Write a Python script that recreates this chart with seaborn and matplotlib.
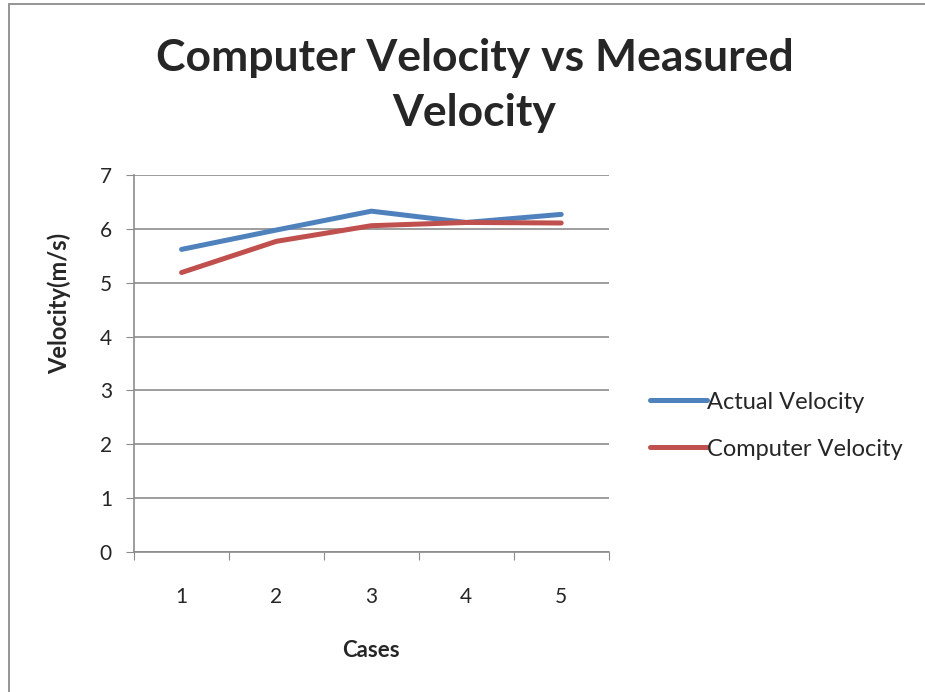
import pandas as pd
import numpy as np
import matplotlib.pyplot as plt
import seaborn as sns
from matplotlib.patches import Rectangle

# data
cases = [1, 2, 3, 4, 5]
actual_velocity = [5.62, 5.98, 6.33, 6.12, 6.27]
computer_velocity = [5.19, 5.77, 6.06, 6.12, 6.11]

df = pd.DataFrame({
    'Cases': cases * 2,
    'Velocity': actual_velocity + computer_velocity,
    'Series': ['Actual Velocity'] * len(cases) + ['Computer Velocity'] * len(cases),
})

sns.set_style('white')
plt.rcParams['font.family'] = ['Lato', 'DejaVu Sans']

fig = plt.figure(figsize=(9.25, 6.92), dpi=100)
ax = fig.add_axes([0.145, 0.2023, 0.513, 0.5447])

palette = {'Actual Velocity': '#4F81BD', 'Computer Velocity': '#C0504D'}
sns.lineplot(data=df, x='Cases', y='Velocity', hue='Series', palette=palette,
             linewidth=3.6, ax=ax, solid_capstyle='round')

grid_c = '#8c8c8c'
ax.set_ylim(0, 7)
ax.set_yticks(range(0, 8))
ax.set_xlim(0.5, 5.5)
ax.set_xticks(np.arange(0.5, 6, 1))
ax.set_xticklabels([])
ax.set_xticks(cases, minor=True)
ax.set_xticklabels([str(c) for c in cases], minor=True)
ax.tick_params(axis='x', which='major', length=6, color=grid_c, direction='out', bottom=True)
ax.tick_params(axis='x', which='minor', length=0, labelsize=15, pad=25)
ax.tick_params(axis='y', length=6, color=grid_c, direction='out', left=True, labelsize=15, pad=10)
ax.yaxis.grid(True, color=grid_c, linewidth=1.2)
ax.set_axisbelow(True)
for s in ['top', 'right']:
    ax.spines[s].set_visible(False)
for s in ['left', 'bottom']:
    ax.spines[s].set_color(grid_c)
    ax.spines[s].set_linewidth(1.2)

ax.set_xlabel('Cases', fontsize=16, fontweight='bold', labelpad=24)
ax.set_ylabel('Velocity(m/s)', fontsize=17, fontweight='bold', va='center')
# the label sits above the middle of the axis, like the reference
ax.yaxis.set_label_coords(-0.158, 0.66)

ax.legend(title=None, frameon=False, loc='center left', bbox_to_anchor=(0.68, 0.385),
          bbox_transform=fig.transFigure, fontsize=17, handlelength=2.4,
          handletextpad=0.02, labelspacing=1.1)

fig.text(0.513, 0.877, 'Computer Velocity vs Measured\nVelocity', ha='center', va='center',
         fontsize=32, fontweight='bold', linespacing=1.45)

# chart frame: only the left and top edges fall inside the picture
fig.patches.append(Rectangle((0.0097, -0.1), 1.2, 0.9935 + 0.1, transform=fig.transFigure,
                             fill=False, edgecolor='#8c8c8c', linewidth=1.3))

fig.savefig('out.png', dpi=100)
